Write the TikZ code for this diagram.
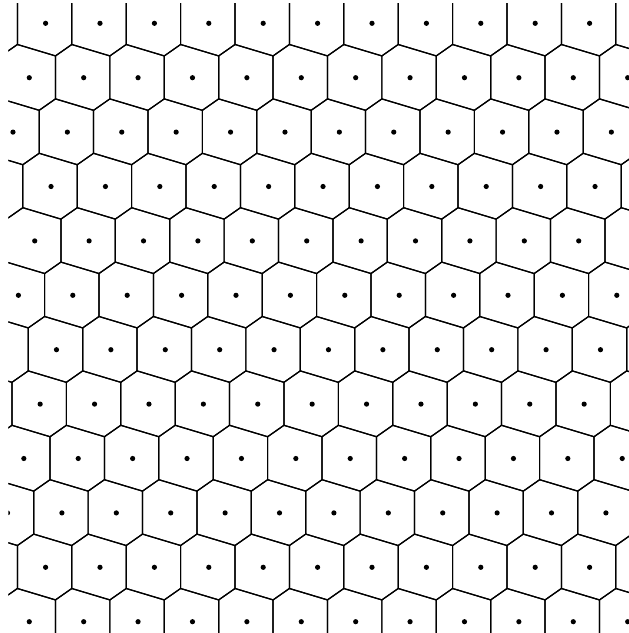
\documentclass[tikz,border=0pt]{standalone}
\begin{document}
\begin{tikzpicture}[x=1pt,y=-1pt,
  cellline/.style={draw=black,line width=1.2pt,line join=miter},
  dotmark/.style={fill=black}]
\useasboundingbox (0,0) rectangle (629,633);
\fill[white] (0,0) rectangle (629,633);
\begin{scope}
\clip (8.3,3) rectangle (629,633);
\foreach \j in {-1,...,12}{
  \foreach \i in {-2,...,15}{
    \pgfmathsetmacro\cx{45.6+54.4*\i-16.32*\j}
    \pgfmathsetmacro\cy{23.3+54.4*\j}
    \pgfmathsetmacro\hx{\cx-1}
    \pgfmathsetmacro\hy{\cy-0.3}
    \draw[cellline] (\hx+27.2,\hy-21.488) -- (\hx+27.2,\hy+21.488)
      -- (\hx+10.88,\hy+32.912) -- (\hx-27.2,\hy+21.488)
      -- (\hx-27.2,\hy-21.488) -- (\hx-10.88,\hy-32.912) -- cycle;
    \fill[dotmark] (\cx,\cy) circle[radius=2.6];
  }
}
\end{scope}
\end{tikzpicture}
\end{document}
